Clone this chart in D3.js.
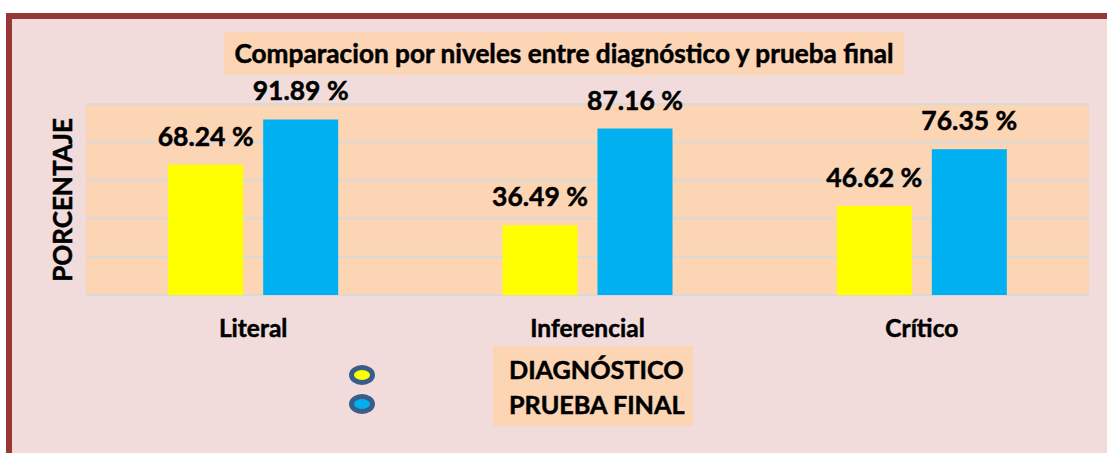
<!DOCTYPE html>
<html>
<head>
<meta charset="utf-8">
<script src="https://cdn.jsdelivr.net/npm/d3@7"></script>
<style>
  body { margin: 0; background: #fff; }
  text { font-family: Lato, "Open Sans", sans-serif; font-weight: bold; fill: #000; stroke: #000; stroke-width: 0.5px; }
</style>
</head>
<body>
<svg id="chart" width="1107" height="453"></svg>
<script>
// datos
var categorias = ["Literal", "Inferencial", "Crítico"];
var series = ["DIAGNÓSTICO", "PRUEBA FINAL"];
var diagnostico = [68.24, 36.49, 46.62];
var pruebaFinal = [91.89, 87.16, 76.35];
var ticks = [0, 20, 40, 60, 80, 100];
var colores = ["#FFFF00", "#00B0F0"];

var width = 1107, height = 453;
var svg = d3.select("#chart");

// fondo + marco
svg.append("rect")
  .attr("x", 9).attr("y", 16)
  .attr("width", width + 20).attr("height", height + 20)
  .attr("fill", "#F2DCDB")
  .attr("stroke", "#953735")
  .attr("stroke-width", 6);

var plot = { left: 86, right: 1089, top: 104, bottom: 295 };

var x0 = d3.scaleBand()
  .domain(categorias)
  .range([plot.left, plot.right]);

var x1 = d3.scaleBand()
  .domain(series)
  .range([0, 170])
  .paddingInner(20 / 95);

var y = d3.scaleLinear()
  .domain([0, 100])
  .range([plot.bottom, plot.top]);

// zona del grafico
svg.append("rect")
  .attr("x", plot.left).attr("y", plot.top)
  .attr("width", plot.right - plot.left)
  .attr("height", plot.bottom - plot.top)
  .attr("fill", "#FCD5B5");

// lineas de la grilla
svg.append("g")
  .selectAll("line")
  .data(ticks)
  .join("line")
  .attr("x1", plot.left).attr("x2", plot.right)
  .attr("y1", d => y(d)).attr("y2", d => y(d))
  .attr("stroke", "#D9D9D9")
  .attr("stroke-width", 2);

// barras
var datos = categorias.map((c, i) => ({
  cat: c,
  valores: [
    { serie: series[0], value: diagnostico[i] },
    { serie: series[1], value: pruebaFinal[i] }
  ]
}));

var color = d3.scaleOrdinal().domain(series).range(colores);
var offset = x0.bandwidth() / 2 - 85;

var grupos = svg.append("g")
  .selectAll("g")
  .data(datos)
  .join("g")
  .attr("transform", d => `translate(${x0(d.cat) + offset},0)`);

grupos.selectAll("rect")
  .data(d => d.valores)
  .join("rect")
  .attr("x", d => x1(d.serie))
  .attr("y", d => y(d.value))
  .attr("width", x1.bandwidth())
  .attr("height", d => y(0) - y(d.value))
  .attr("fill", d => color(d.serie));

grupos.selectAll("text")
  .data(d => d.valores)
  .join("text")
  .attr("x", d => x1(d.serie) + x1.bandwidth() / 2)
  .attr("y", d => y(d.value) - 19)
  .attr("text-anchor", "middle")
  .attr("font-size", 26.5)
  .text(d => d.value.toFixed(2) + " %");

// etiquetas de categorias
svg.append("g")
  .selectAll("text")
  .data(categorias)
  .join("text")
  .attr("x", d => x0(d) + x0.bandwidth() / 2)
  .attr("y", 337)
  .attr("text-anchor", "middle")
  .attr("font-size", 24.5)
  .text(d => d);

// titulo eje y
svg.append("text")
  .attr("transform", "translate(72,200) rotate(-90)")
  .attr("text-anchor", "middle")
  .attr("font-size", 26)
  .text("PORCENTAJE");

// titulo
svg.append("rect")
  .attr("x", 224).attr("y", 32)
  .attr("width", 680).attr("height", 43)
  .attr("fill", "#FCD5B5");
svg.append("text")
  .attr("x", 564).attr("y", 63)
  .attr("text-anchor", "middle")
  .attr("font-size", 26.2)
  .text("Comparacion por niveles entre diagnóstico y prueba final");

// leyenda
svg.append("rect")
  .attr("x", 493).attr("y", 346)
  .attr("width", 200).attr("height", 80)
  .attr("fill", "#FCD5B5");

var leyenda = svg.append("g")
  .selectAll("g")
  .data(series)
  .join("g");

leyenda.append("ellipse")
  .attr("cx", 362)
  .attr("cy", (d, i) => 375 + i * 29)
  .attr("rx", 10.5).attr("ry", 7.5)
  .attr("fill", d => color(d))
  .attr("stroke", "#385D8A")
  .attr("stroke-width", 5);

leyenda.append("text")
  .attr("x", 509)
  .attr("y", (d, i) => 379 + i * 35)
  .attr("font-size", 25.2)
  .text(d => d);
</script>
</body>
</html>
